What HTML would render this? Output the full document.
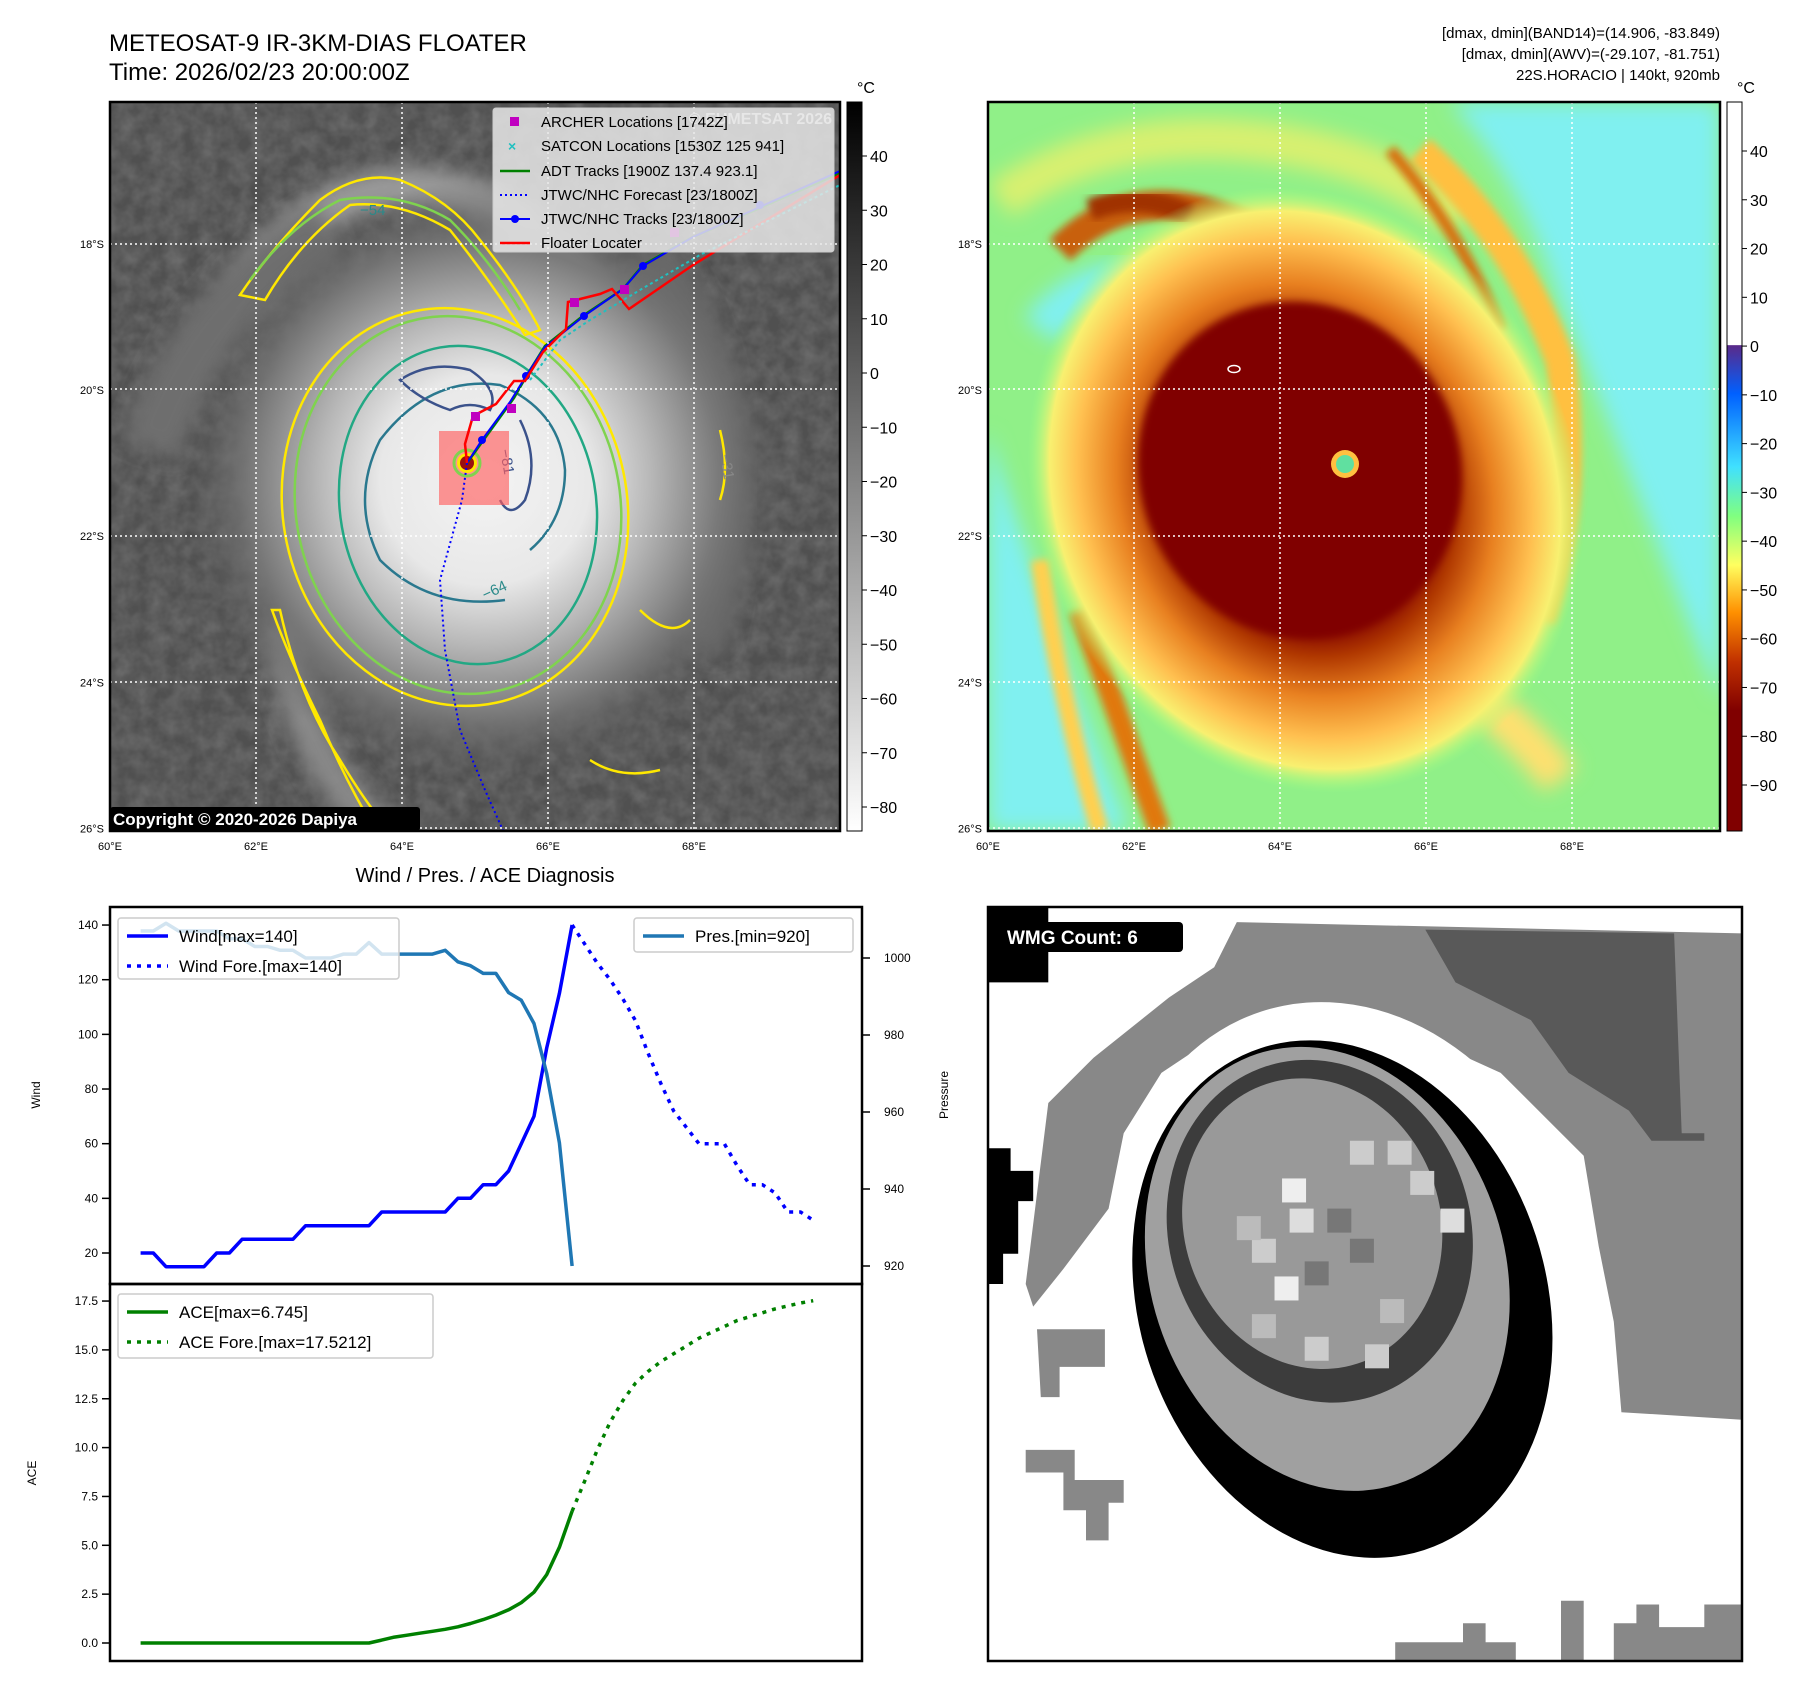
<!DOCTYPE html>
<html><head><meta charset="utf-8"><style>
html,body{margin:0;padding:0;background:#fff;}
svg{display:block;font-family:"Liberation Sans","DejaVu Sans",sans-serif;}
</style></head><body>
<svg id="root" width="1801" height="1690" viewBox="0 0 1801 1690" xmlns="http://www.w3.org/2000/svg">
<defs>
<radialGradient id="irStorm" cx="485" cy="480" r="300" gradientUnits="userSpaceOnUse">
<stop offset="0" stop-color="#f4f4f4"/><stop offset="0.35" stop-color="#e8e8e8"/><stop offset="0.55" stop-color="#b8b8b8"/><stop offset="0.78" stop-color="#7a7a7a"/><stop offset="1" stop-color="#5a5a5a" stop-opacity="0"/>
</radialGradient>
<linearGradient id="cb1" x1="0" y1="0" x2="0" y2="1"><stop offset="0" stop-color="#000"/><stop offset="1" stop-color="#fff"/></linearGradient>
<linearGradient id="cb2" x1="0" y1="0" x2="0" y2="1">
<stop offset="0" stop-color="#fff"/><stop offset="0.333" stop-color="#fff"/><stop offset="0.334" stop-color="#5a2a8a"/><stop offset="0.4" stop-color="#0060ff"/><stop offset="0.5" stop-color="#40e0ff"/><stop offset="0.568" stop-color="#80ff80"/><stop offset="0.635" stop-color="#ffff60"/><stop offset="0.70" stop-color="#ff9000"/><stop offset="0.768" stop-color="#c03000"/><stop offset="0.835" stop-color="#800000"/><stop offset="1" stop-color="#800000"/>
</linearGradient>
<radialGradient id="awvStorm" cx="0.5" cy="0.5" r="0.5">
<stop offset="0" stop-color="#800000"/><stop offset="0.45" stop-color="#800000"/><stop offset="0.55" stop-color="#b03800"/><stop offset="0.68" stop-color="#e88020"/><stop offset="0.82" stop-color="#ffc050"/><stop offset="0.92" stop-color="#f8f070"/><stop offset="1" stop-color="#a0ff80" stop-opacity="0"/>
</radialGradient>
<filter id="blur4" x="-50%" y="-50%" width="200%" height="200%"><feGaussianBlur stdDeviation="4"/></filter>
<filter id="blur10" x="-50%" y="-50%" width="200%" height="200%"><feGaussianBlur stdDeviation="10"/></filter>
<filter id="tex" x="0" y="0" width="1" height="1"><feTurbulence type="fractalNoise" baseFrequency="0.06" numOctaves="3" seed="4"/><feColorMatrix type="matrix" values="0 0 0 0 1  0 0 0 0 1  0 0 0 0 1  0 0 0 0.6 -0.15"/></filter>
<clipPath id="clip1"><rect x="110" y="102" width="730" height="729"/></clipPath>
<clipPath id="clip2"><rect x="988" y="102" width="732" height="729"/></clipPath>
<clipPath id="clip3"><rect x="988" y="907" width="754" height="754"/></clipPath>
</defs>

<text x="109" y="51" font-size="24">METEOSAT-9 IR-3KM-DIAS FLOATER</text>
<text x="109" y="80" font-size="24">Time: 2026/02/23 20:00:00Z</text>
<g font-size="15" text-anchor="end">
<text x="1720" y="38">[dmax, dmin](BAND14)=(14.906, -83.849)</text>
<text x="1720" y="59">[dmax, dmin](AWV)=(-29.107, -81.751)</text>
<text x="1720" y="80">22S.HORACIO | 140kt, 920mb</text>
</g>

<g clip-path="url(#clip1)">
<rect x="110" y="102" width="730" height="729" fill="#505050"/>
<rect x="110" y="102" width="730" height="729" filter="url(#tex)" opacity="0.4"/>
<path d="M240,300 Q330,150 480,200 Q560,230 600,330" stroke="#9a9a9a" stroke-width="40" fill="none" filter="url(#blur10)"/>
<path d="M280,620 Q300,760 380,830" stroke="#8a8a8a" stroke-width="35" fill="none" filter="url(#blur10)"/>
<path d="M650,250 Q760,420 700,650" stroke="#6a6a6a" stroke-width="50" fill="none" filter="url(#blur10)"/>
<path d="M150,450 Q200,300 330,230" stroke="#6e6e6e" stroke-width="60" fill="none" filter="url(#blur10)"/>
<circle cx="485" cy="480" r="300" fill="url(#irStorm)"/>
<g fill="none" stroke-width="2.5">
<ellipse cx="455" cy="507" rx="172" ry="200" transform="rotate(-12 455 507)" stroke="#ffe800"/>
<ellipse cx="458" cy="505" rx="162" ry="190" transform="rotate(-12 458 505)" stroke="#7fd34e"/>
<ellipse cx="468" cy="505" rx="128" ry="160" transform="rotate(-10 468 505)" stroke="#22a884"/>
<path d="M505,600 Q430,610 380,560 Q350,500 380,440 Q430,375 500,385 Q560,410 565,470 Q565,520 530,550" stroke="#2a788e"/>
<path d="M400,380 Q430,360 470,370 Q500,390 490,410 Q470,400 450,410 Q420,400 400,380Z" stroke="#3b528b"/>
<path d="M520,420 Q540,460 525,500 Q510,520 500,500" stroke="#3b528b"/>
<path d="M240,295 Q270,250 320,200 Q360,170 400,180 Q450,200 480,240 Q520,290 540,330 L525,335 Q490,280 450,230 Q400,200 350,205 Q300,240 265,300 Z" stroke="#ffe800"/>
<path d="M250,280 Q290,225 340,200 Q400,190 450,220 Q490,260 520,310" stroke="#7fd34e"/>
<path d="M280,610 Q300,700 340,760 Q370,810 390,830 L375,830 Q345,780 320,720 Q290,660 272,610 Z" stroke="#ffe800"/>
<path d="M720,430 Q730,470 720,500" stroke="#ffe800"/>
<path d="M640,610 Q670,640 690,620" stroke="#ffe800"/>
<path d="M590,760 Q620,780 660,770" stroke="#ffe800"/>
</g>
<g font-size="15" fill="#2a8a8a">
<text x="485" y="600" transform="rotate(-25 485 600)">−64</text>
<text x="500" y="450" transform="rotate(80 500 450)" fill="#3b528b">−81</text>
<text x="720" y="455" transform="rotate(80 720 455)" fill="#888">−31</text>
<text x="360" y="215" fill="#2a8a8a">−54</text>
</g>
<rect x="439" y="431" width="70" height="74" fill="#ff6060" opacity="0.65"/>
<circle cx="467" cy="463" r="13" fill="none" stroke="#7fd34e" stroke-width="3"/>
<circle cx="467" cy="463" r="10" fill="#ffe800"/>
<circle cx="467" cy="463" r="7" fill="#9a1010"/>
<polyline points="467,463 462,500 440,580 445,650 460,730 485,790 505,835" fill="none" stroke="#0000ff" stroke-width="2" stroke-dasharray="2 3"/>
<polyline points="467,463 485,438 514,398 527,375 545,346 584,315 623,289 643,265 693,237 845,171" fill="none" stroke="#008000" stroke-width="2.5"/>
<polyline points="467,463 482,440 510,402 526,376 545,347 584,316 623,289 643,266 693,237 840,171" fill="none" stroke="#0000ff" stroke-width="2"/>
<g fill="#0000ff"><circle cx="482" cy="440" r="4"/><circle cx="526" cy="376" r="4"/><circle cx="584" cy="316" r="4"/><circle cx="643" cy="266" r="4"/><circle cx="760" cy="205" r="4"/></g>
<polyline points="467,463 465,444 473,416 496,404 514,381 525,381 543,352 566,329 568,302 600,294 612,289 629,309 693,265 840,175" fill="none" stroke="#ff0000" stroke-width="2.5"/>
<g fill="#c000c0"><rect x="471" y="412" width="9" height="9"/><rect x="507" y="404" width="9" height="9"/><rect x="570" y="298" width="9" height="9"/><rect x="620" y="285" width="9" height="9"/><rect x="670" y="228" width="9" height="9"/></g>
<g stroke="#20c0c0" stroke-width="2" stroke-dasharray="3 3" fill="none"><polyline points="530,380 560,340 590,320 640,290 700,255 840,185"/></g>
<g stroke="#fff" stroke-width="1.5" stroke-dasharray="2 3">
<line x1="256" y1="102" x2="256" y2="831"/><line x1="402" y1="102" x2="402" y2="831"/><line x1="548" y1="102" x2="548" y2="831"/><line x1="694" y1="102" x2="694" y2="831"/>
<line x1="110" y1="244" x2="840" y2="244"/><line x1="110" y1="389" x2="840" y2="389"/><line x1="110" y1="536" x2="840" y2="536"/><line x1="110" y1="682" x2="840" y2="682"/><line x1="110" y1="828" x2="840" y2="828"/>
</g>
<text x="832" y="124" font-size="16" font-weight="bold" fill="#e0e0e0" text-anchor="end">© EUMETSAT 2026</text>
<rect x="110" y="807" width="310" height="24" rx="3" fill="#000"/>
<text x="113" y="825" font-size="17" font-weight="bold" fill="#fff">Copyright © 2020-2026 Dapiya</text>
</g>
<rect x="110" y="102" width="730" height="729" fill="none" stroke="#000" stroke-width="2.5"/>

<g font-size="15">
<rect x="493" y="108" width="341" height="144" rx="3" fill="#e8e8e8" fill-opacity="0.85" stroke="#ccc"/>
<rect x="510" y="117" width="9" height="9" fill="#c000c0"/><text x="541" y="127">ARCHER Locations [1742Z]</text>
<text x="508" y="151" fill="#20c0c0" font-size="14" font-weight="bold">×</text><text x="541" y="151">SATCON Locations [1530Z 125 941]</text>
<line x1="500" y1="171" x2="530" y2="171" stroke="#008000" stroke-width="2.5"/><text x="541" y="176">ADT Tracks [1900Z 137.4 923.1]</text>
<line x1="500" y1="195" x2="530" y2="195" stroke="#0000ff" stroke-width="2" stroke-dasharray="2 3"/><text x="541" y="200">JTWC/NHC Forecast [23/1800Z]</text>
<line x1="500" y1="219" x2="530" y2="219" stroke="#0000ff" stroke-width="2"/><circle cx="515" cy="219" r="4" fill="#0000ff"/><text x="541" y="224">JTWC/NHC Tracks [23/1800Z]</text>
<line x1="500" y1="243" x2="530" y2="243" stroke="#ff0000" stroke-width="2.5"/><text x="541" y="248">Floater Locater</text>
</g>

<g clip-path="url(#clip2)">
<rect x="988" y="102" width="732" height="729" fill="#90f088"/>
<path d="M1450,102 L1720,102 L1720,700 Q1640,500 1560,300 Q1520,180 1450,102Z" fill="#80f0f0" filter="url(#blur10)"/>
<path d="M988,430 Q1040,600 1130,831 L988,831 Z" fill="#80f0f0" filter="url(#blur10)"/>
<path d="M1040,330 Q1080,280 1140,280" stroke="#80f0f0" stroke-width="40" fill="none" filter="url(#blur10)"/>
<path d="M1000,200 Q1100,130 1240,140 Q1380,150 1460,220" stroke="#d8f070" stroke-width="40" fill="none" filter="url(#blur10)"/>
<path d="M1060,250 Q1130,180 1230,220 Q1280,240 1320,280" stroke="#c86010" stroke-width="30" fill="none" filter="url(#blur4)"/>
<path d="M1090,210 Q1140,190 1190,215" stroke="#a03000" stroke-width="22" fill="none" filter="url(#blur4)"/>
<path d="M1420,150 Q1510,230 1560,360 Q1580,500 1540,620" stroke="#ffc040" stroke-width="30" fill="none" filter="url(#blur4)"/>
<path d="M1390,150 Q1460,230 1500,330" stroke="#d87010" stroke-width="12" fill="none" filter="url(#blur4)"/>
<path d="M1080,610 Q1120,720 1160,831" stroke="#e07810" stroke-width="22" fill="none" filter="url(#blur4)"/>
<path d="M1040,560 Q1060,700 1100,831" stroke="#ffd050" stroke-width="18" fill="none" filter="url(#blur4)"/>
<path d="M1400,650 Q1500,700 1560,780" stroke="#ffe070" stroke-width="40" fill="none" filter="url(#blur10)"/>
<ellipse cx="1305" cy="490" rx="270" ry="310" transform="rotate(-25 1305 490)" fill="url(#awvStorm)"/>
<ellipse cx="1300" cy="470" rx="160" ry="170" transform="rotate(-25 1300 470)" fill="#800000" filter="url(#blur4)"/>
<circle cx="1345" cy="464" r="14" fill="#ffc040"/>
<circle cx="1345" cy="464" r="9" fill="#60e0a0"/>
<ellipse cx="1234" cy="369" rx="6" ry="3.5" fill="none" stroke="#fff" stroke-width="1.5"/>
<g stroke="#fff" stroke-width="1.5" stroke-dasharray="2 3">
<line x1="1134" y1="102" x2="1134" y2="831"/><line x1="1280" y1="102" x2="1280" y2="831"/><line x1="1426" y1="102" x2="1426" y2="831"/><line x1="1572" y1="102" x2="1572" y2="831"/>
<line x1="988" y1="244" x2="1720" y2="244"/><line x1="988" y1="389" x2="1720" y2="389"/><line x1="988" y1="536" x2="1720" y2="536"/><line x1="988" y1="682" x2="1720" y2="682"/><line x1="988" y1="828" x2="1720" y2="828"/>
</g>
</g>
<rect x="988" y="102" width="732" height="729" fill="none" stroke="#000" stroke-width="2.5"/>

<rect x="847" y="102" width="15" height="729" fill="url(#cb1)" stroke="#000" stroke-width="1"/>
<text x="857" y="93" font-size="16">°C</text>
<g id="cb1ticks" font-size="16"></g>
<rect x="1727" y="102" width="15" height="729" fill="url(#cb2)" stroke="#000" stroke-width="1"/>
<text x="1737" y="93" font-size="16">°C</text>
<g id="cb2ticks" font-size="16"></g>
<g id="mapticks" font-size="11"></g>

<text x="485" y="882" font-size="20" text-anchor="middle">Wind / Pres. / ACE Diagnosis</text>
<g id="chart"></g>

<g clip-path="url(#clip3)">
<rect x="988" y="907" width="754" height="754" fill="#fff"/>
<g id="wmg"></g>
</g>
<rect x="988" y="907" width="754" height="754" fill="none" stroke="#000" stroke-width="2.5"/>
<rect x="988" y="922" width="195" height="30" rx="4" fill="#000"/>
<text x="1007" y="944" font-size="19" font-weight="bold" fill="#fff">WMG Count: 6</text>
</svg>
<script>
const NS='http://www.w3.org/2000/svg';
const windObs=[20,20,15,15,15,15,20,20,25,25,25,25,25,30,30,30,30,30,30,35,35,35,35,35,35,40,40,45,45,50,60,70,95,115,140];
const windFore=[140,133,126,120,113,105,93,82,72,66,60,60,60,52,45,45,42,35,35,32];
const presObs=[1007,1007,1009,1007,1007,1007,1007,1005,1005,1003,1003,1002,1002,1000,1000,1000,1001,1001,1004,1001,1001,1001,1001,1001,1002,999,998,996,996,991,989,983,970,952,920];
const aceObs=[0,0,0,0,0,0,0,0,0,0,0,0,0,0,0,0,0,0,0,0.15,0.3,0.4,0.5,0.6,0.7,0.83,1.0,1.2,1.43,1.7,2.07,2.6,3.5,4.9,6.745];
const aceFore=[6.745,8.3,9.9,11.3,12.4,13.3,13.9,14.4,14.8,15.2,15.6,15.9,16.2,16.5,16.7,16.9,17.1,17.25,17.4,17.52];
const windTicks=[20,40,60,80,100,120,140];
const presTicks=[920,940,960,980,1000];
const aceTicks=[0,2.5,5,7.5,10,12.5,15,17.5];
const irCbTicks=[40,30,20,10,0,-10,-20,-30,-40,-50,-60,-70,-80];
const awvCbTicks=[40,30,20,10,0,-10,-20,-30,-40,-50,-60,-70,-80,-90];
const latTicks=['18°S','20°S','22°S','24°S','26°S'];
const lonTicks=['60°E','62°E','64°E','66°E','68°E'];

const xS=i=>140.6+i*12.69;
const yWind=v=>1253-(v-20)*2.733;
const yPres=v=>1266-(v-920)*3.85;
const yAce=v=>1643-v*19.54;
function el(tag,attrs,parent,txt){const e=document.createElementNS(NS,tag);for(const k in attrs)e.setAttribute(k,attrs[k]);if(txt!==undefined)e.textContent=txt;parent.appendChild(e);return e;}
const chart=document.getElementById('chart');
function line(vals,off,yf,color,dash,name){
  const pts=vals.map((v,i)=>xS(i+off).toFixed(1)+','+yf(v).toFixed(1)).join(' ');
  const p=el('polyline',{points:pts,fill:'none',stroke:color,'stroke-width':3.5,'stroke-linejoin':'round'},chart);
  if(dash)p.setAttribute('stroke-dasharray',dash);
  
  
}
const f1=el('rect',{x:110,y:907,width:752,height:377,fill:'none',stroke:'#000','stroke-width':2.5},chart);


const f2=el('rect',{x:110,y:1284,width:752,height:377,fill:'none',stroke:'#000','stroke-width':2.5},chart);


windTicks.forEach(v=>{const y=yWind(v);el('line',{x1:102,x2:110,y1:y,y2:y,stroke:'#000','stroke-width':1.5},chart);
 const t=el('text',{x:98,y:y+4,'font-size':12,'text-anchor':'end'},chart,String(v));
 
 });
presTicks.forEach(v=>{const y=yPres(v);el('line',{x1:862,x2:870,y1:y,y2:y,stroke:'#000','stroke-width':1.5},chart);
 const t=el('text',{x:884,y:y+4,'font-size':12},chart,String(v));
 
 });
aceTicks.forEach(v=>{const y=yAce(v);el('line',{x1:102,x2:110,y1:y,y2:y,stroke:'#000','stroke-width':1.5},chart);
 const t=el('text',{x:98,y:y+4,'font-size':12,'text-anchor':'end'},chart,v.toFixed(1));
 
 });
let t;
t=el('text',{x:0,y:0,'font-size':12,transform:'translate(40,1095) rotate(-90)','text-anchor':'middle'},chart,'Wind');


t=el('text',{x:0,y:0,'font-size':12,transform:'translate(948,1095) rotate(-90)','text-anchor':'middle'},chart,'Pressure');


t=el('text',{x:0,y:0,'font-size':12,transform:'translate(36,1473) rotate(-90)','text-anchor':'middle'},chart,'ACE');


line(windObs,0,yWind,'#0000ff',null,'wind-line');
line(windFore,34,yWind,'#0000ff','4 6','wind-forecast-line');
line(presObs,0,yPres,'#1f77b4',null,'pressure-line');
line(aceObs,0,yAce,'#008000',null,'ace-line');
line(aceFore,34,yAce,'#008000','4 6','ace-forecast-line');
function legend(x,y,w,h,items,name){
  const g=el('g',{},chart);
  
  
  el('rect',{x:x,y:y,width:w,height:h,rx:3,fill:'#fff','fill-opacity':0.8,stroke:'#ccc','stroke-width':1.5},g);
  items.forEach((it,i)=>{const yy=y+18+i*30;
    const l=el('line',{x1:x+9,x2:x+50,y1:yy,y2:yy,stroke:it[1],'stroke-width':3.5},g); if(it[2])l.setAttribute('stroke-dasharray','4 6');
    el('text',{x:x+61,y:yy+6,'font-size':17},g,it[0]);});
}
legend(118,918,281,61,[['Wind[max=140]','#0000ff',0],['Wind Fore.[max=140]','#0000ff',1]],'wind-legend');
legend(634,918,219,34,[['Pres.[min=920]','#1f77b4',0]],'pressure-legend');
legend(118,1294,315,64,[['ACE[max=6.745]','#008000',0],['ACE Fore.[max=17.5212]','#008000',1]],'ace-legend');

const cb1=document.getElementById('cb1ticks');
irCbTicks.forEach(v=>{const y=156+(40-v)*5.425;el('line',{x1:862,x2:867,y1:y,y2:y,stroke:'#000'},cb1);
 const tt=el('text',{x:870,y:y+6},cb1,v<0?'−'+(-v):String(v));
 
 });
const cb2=document.getElementById('cb2ticks');
awvCbTicks.forEach(v=>{const y=151+(40-v)*4.877;el('line',{x1:1742,x2:1747,y1:y,y2:y,stroke:'#000'},cb2);
 const tt=el('text',{x:1750,y:y+6},cb2,v<0?'−'+(-v):String(v));
 
 });
const mt=document.getElementById('mapticks');
[110,988].forEach(x0=>{
 latTicks.forEach((s,i)=>{const y=244+i*146.1;const tt=el('text',{x:x0-6,y:y+4,'text-anchor':'end'},mt,s);
  
  });
 lonTicks.forEach((s,i)=>{const x=x0+i*146;const tt=el('text',{x:x,y:850,'text-anchor':'middle'},mt,s);
  
  });
});
const wmg=document.getElementById('wmg');
const P=(pts)=>pts.map(p=>(988+p[0]*754).toFixed(1)+','+(907+p[1]*754).toFixed(1)).join(' ');
function poly(pts,fill,name){const p=el('polygon',{points:P(pts),fill:fill},wmg);}
poly([[0.33,0.02],[1,0.035],[1,0.68],[0.84,0.67],[0.83,0.55],[0.81,0.45],[0.79,0.33],[0.74,0.28],[0.68,0.22],[0.57,0.17],[0.45,0.15],[0.32,0.16],[0.23,0.22],[0.18,0.3],[0.16,0.4],[0.1,0.48],[0.06,0.53],[0.05,0.5],[0.08,0.26],[0.14,0.2],[0.24,0.12],[0.3,0.08]],'#888','wmg-outer-band');
poly([[0.58,0.03],[0.91,0.035],[0.92,0.3],[0.95,0.3],[0.95,0.31],[0.88,0.31],[0.85,0.27],[0.77,0.22],[0.72,0.15],[0.62,0.1]],'#595959','wmg-dark-band');
poly([[0,0],[0.08,0],[0.08,0.1],[0,0.1]],'#000','wmg-black-corner');
poly([[0,0.32],[0.03,0.32],[0.03,0.35],[0.06,0.35],[0.06,0.39],[0.04,0.39],[0.04,0.46],[0.02,0.46],[0.02,0.5],[0,0.5]],'#000','wmg-black-left');
poly([[0.065,0.56],[0.155,0.56],[0.155,0.61],[0.095,0.61],[0.095,0.65],[0.07,0.65]],'#888','wmg-blob');
poly([[0.05,0.72],[0.115,0.72],[0.115,0.76],[0.18,0.76],[0.18,0.79],[0.16,0.79],[0.16,0.84],[0.13,0.84],[0.13,0.8],[0.1,0.8],[0.1,0.75],[0.05,0.75]],'#888','wmg-blob');
poly([[0.54,1],[0.54,0.975],[0.63,0.975],[0.63,0.95],[0.66,0.95],[0.66,0.975],[0.7,0.975],[0.7,1]],'#888','wmg-blob');
poly([[0.76,1],[0.76,0.92],[0.79,0.92],[0.79,1]],'#888','wmg-blob');
poly([[0.83,1],[0.83,0.95],[0.86,0.95],[0.86,0.925],[0.89,0.925],[0.89,0.955],[0.95,0.955],[0.95,0.925],[1,0.925],[1,1]],'#888','wmg-blob');
const E=(cx,cy,rx,ry,fill,name)=>{const e=el('ellipse',{cx:988+cx*754,cy:907+cy*754,rx:rx*754,ry:ry*754,fill:fill,transform:`rotate(-18 ${988+cx*754} ${907+cy*754})`},wmg);};
E(0.48,0.5,0.31,0.38,'#fff','wmg-white-ring');
E(0.47,0.52,0.27,0.35,'#000','wmg-black-ring');
E(0.45,0.48,0.235,0.3,'#a0a0a0','wmg-gray-ring');
E(0.44,0.43,0.2,0.23,'#3c3c3c','wmg-dark-ring');
E(0.43,0.42,0.17,0.195,'#999','wmg-core');
[[0.39,0.36,'#eee'],[0.4,0.4,'#ddd'],[0.38,0.49,'#eee'],[0.35,0.44,'#ccc'],[0.48,0.31,'#ccc'],[0.53,0.31,'#ccc'],[0.56,0.35,'#ccc'],[0.6,0.4,'#ddd'],[0.52,0.52,'#bbb'],[0.33,0.41,'#bbb'],[0.45,0.4,'#777'],[0.48,0.44,'#777'],[0.42,0.47,'#777'],[0.35,0.54,'#bbb'],[0.42,0.57,'#ccc'],[0.5,0.58,'#ccc']].forEach(c=>{
 const r=el('rect',{x:988+c[0]*754,y:907+c[1]*754,width:24,height:24,fill:c[2]},wmg);
 
 });
</script>
</body></html>
